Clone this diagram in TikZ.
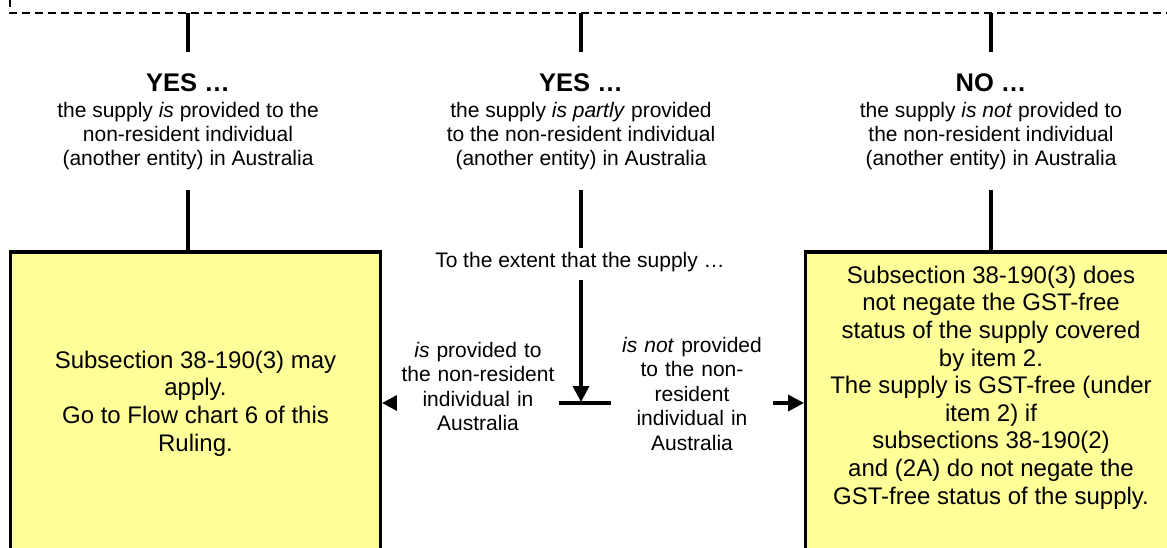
\documentclass[tikz,border=0pt]{standalone}
\usepackage{fontspec}
\setmainfont{Liberation Sans}
\usetikzlibrary{arrows.meta}
\definecolor{boxyellow}{HTML}{FFFF99}
\begin{document}
\begin{tikzpicture}[x=1pt,y=-1pt,
  frame/.style={line width=2pt,dash pattern=on 8pt off 5pt},
  conn/.style={line width=3.6pt},
  arr/.style={line width=3.6pt,-{Triangle[length=16pt,width=16pt]}},
  yes/.style={inner sep=0pt,font=\fontsize{25.5}{29}\selectfont\bfseries},
  lab/.style={inner sep=0pt,align=center,font=\fontsize{21}{24.2}\selectfont},
  side/.style={inner sep=0pt,align=center,text width=162pt,fill=white,font=\fontsize{21}{24.5}\selectfont},
  box/.style={draw,line width=3.6pt,fill=boxyellow,outer sep=0pt,minimum width=370pt},
  boxtext/.style={inner sep=0pt,align=center,font=\fontsize{24}{27.6}\selectfont}]
\clip (0,0) rectangle (1167,547);
% dashed frame of the question box above
\coordinate (fc) at (9.5,13);
\draw[frame,dash phase=4pt] (9.5,-10) -- (fc) -- (1180,13);
\coordinate (t1) at (188,13);
\coordinate (t2) at (581,13);
\coordinate (t3) at (991,13);
% answer labels
\node[yes] (y1) at (188,83) {YES …};
\node[lab] (l1) at (188,136) {the supply \textit{is} provided to the\\non-resident individual\\(another entity) in Australia};
\node[yes] (y2) at (581,83) {YES …};
\node[lab] (l2) at (581,136) {the supply \textit{is partly} provided\\to the non-resident individual\\(another entity) in Australia};
\node[yes] (y3) at (991,83) {NO …};
\node[lab] (l3) at (991,136) {the supply \textit{is not} provided to\\the non-resident individual\\(another entity) in Australia};
% boxes
\node[box,minimum height=303pt] (b1) at (195.5,403.5) {};
\node[boxtext] (bt1) at (195.5,403.5) {Subsection 38-190(3) may\\apply.\\Go to Flow chart 6 of this\\Ruling.};
\node[box,minimum height=348pt,anchor=north west] (b2) at (805.5,252) {};
\node[boxtext] (bt2) at (991,387.5) {Subsection 38-190(3) does\\not negate the GST-free\\status of the supply covered\\by item 2.\\The supply is GST-free (under\\item 2) if\\subsections 38-190(2)\\and (2A) do not negate the\\GST-free status of the supply.};
% middle
\node[lab] (ext) at (580,262) {To the extent that the supply …};
\coordinate (j) at (581,403);
% connectors
\draw[conn] (t1) -- ([yshift=22pt]y1.north);
\draw[conn] (t2) -- ([yshift=22pt]y2.north);
\draw[conn] (t3) -- ([yshift=22pt]y3.north);
\draw[conn] ([yshift=-20pt]l1.south) -- (b1.north -| l1.south);
\draw[conn] ([yshift=-20pt]l2.south) -- ([yshift=4pt]ext.north -| l2.south);
\draw[conn] ([yshift=-20pt]l3.south) -- (b2.north -| l3.south);
\draw[arr,shorten >=1pt] ([yshift=-8pt]ext.south -| j) -- (j);
\draw[arr,shorten >=1.5pt] (j) -- (b1.east |- j);
\draw[arr,shorten >=1.5pt] (j) -- (b2.west |- j);
\node[side] (s1) at (478,386.4) {\textit{is} provided to\\the non-resident\\individual in\\Australia};
\node[side] (s2) at (692,393.9) {\textit{is not} provided\\to the non-\\resident\\individual in\\Australia};
\end{tikzpicture}
\end{document}
